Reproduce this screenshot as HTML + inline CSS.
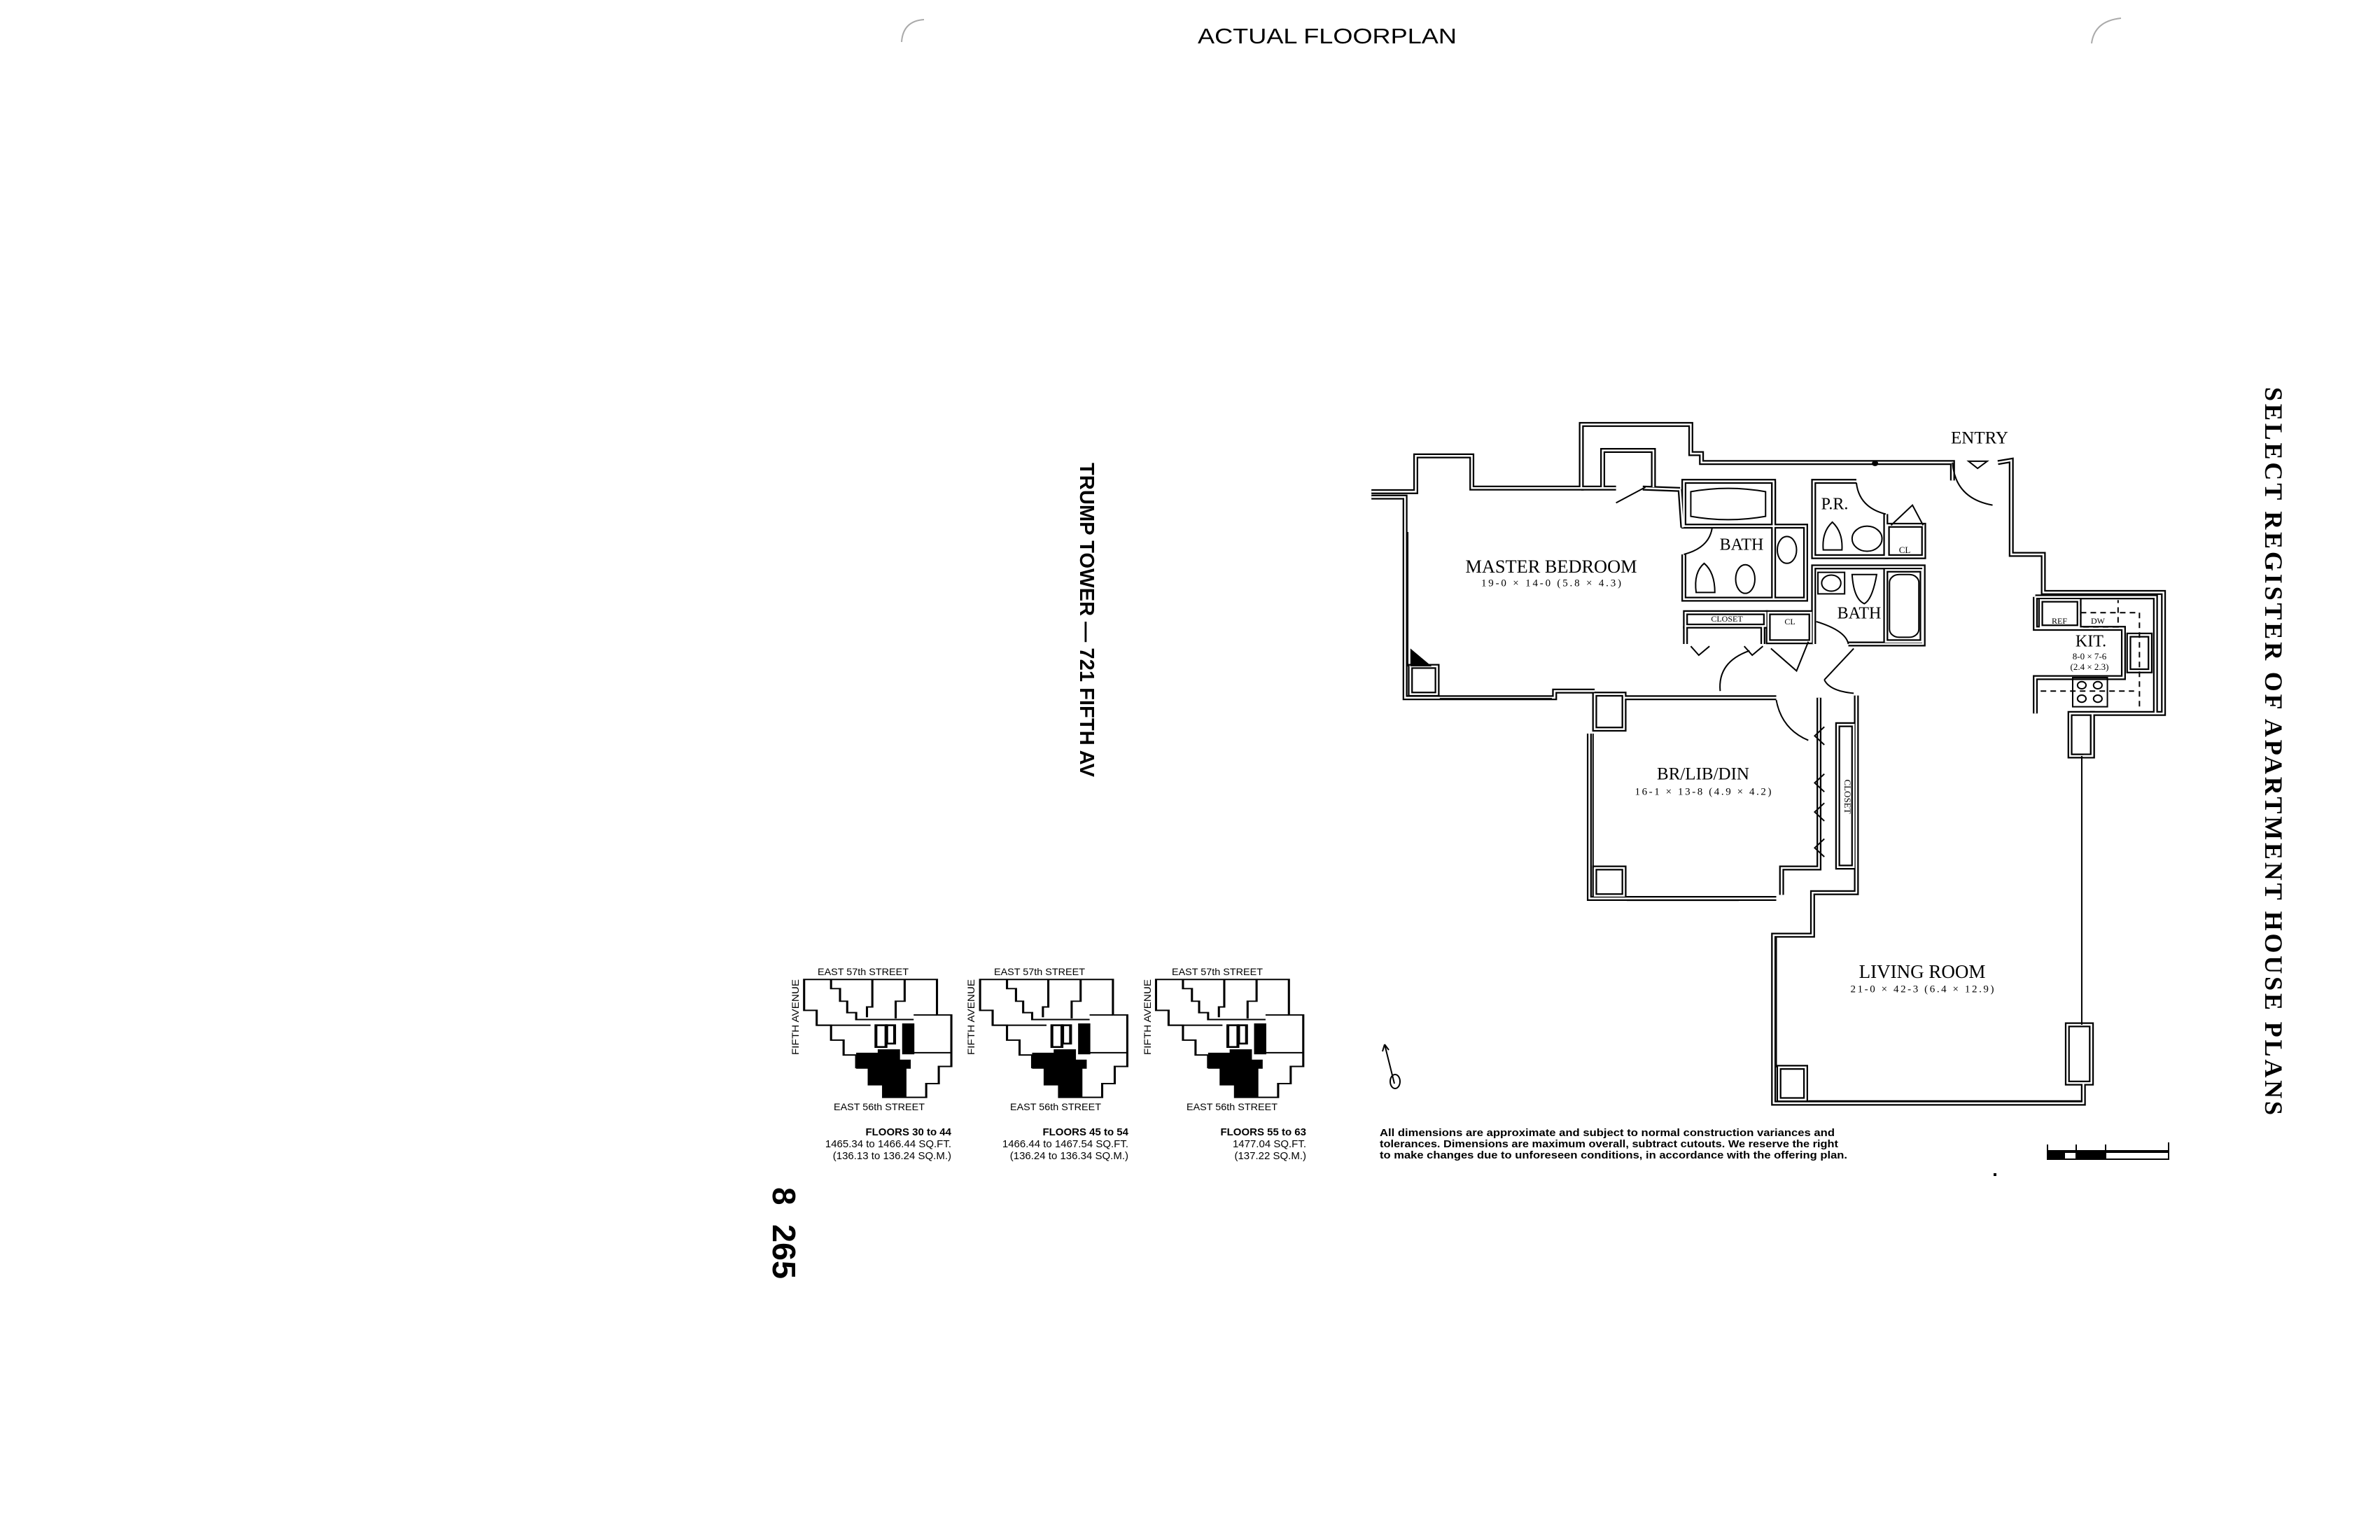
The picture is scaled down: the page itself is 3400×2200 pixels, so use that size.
<!DOCTYPE html>
<html><head><meta charset="utf-8"><style>
html,body{margin:0;padding:0;background:#fff}
svg{display:block}
</style></head><body>
<svg width="3400" height="2200" viewBox="0 0 3400 2200" xmlns="http://www.w3.org/2000/svg">
<defs>
 <g id="walls">
  <polyline vector-effect="non-scaling-stroke" points="12,160 95,160 95,80 200,80 200,152 405,152 405,10 610,10 610,75 630,75 630,95 1100,95 1100,135"/>
  <polyline vector-effect="non-scaling-stroke" points="1185,95 1210,90 1210,300 1270,300 1270,385 1495,385 1495,655 1362,655 1362,750 1345,750"/>
  <polyline vector-effect="non-scaling-stroke" points="1345,1480 1345,1525 765,1525 765,1150 838,1150 838,1055 920,1055 920,615"/>
  <polyline vector-effect="non-scaling-stroke" points="12,172 75,172 75,620 355,620 355,605 430,605"/>
  <polyline vector-effect="non-scaling-stroke" points="420,700 420,1068 770,1068"/>
  <polyline vector-effect="non-scaling-stroke" points="485,620 770,620"/>
  <polyline vector-effect="non-scaling-stroke" points="850,620 850,1000 780,1000 780,1060"/>
  <polyline vector-effect="non-scaling-stroke" points="590,155 595,240"/>
  <rect vector-effect="non-scaling-stroke" x="85" y="550" width="50" height="62"/>
  <rect vector-effect="non-scaling-stroke" x="430" y="612" width="55" height="78"/>
  <rect vector-effect="non-scaling-stroke" x="430" y="1000" width="55" height="62"/>
  <rect vector-effect="non-scaling-stroke" x="775" y="1445" width="50" height="72"/>
  <rect vector-effect="non-scaling-stroke" x="1315" y="1350" width="45" height="130"/>
  <rect vector-effect="non-scaling-stroke" x="1320" y="655" width="42" height="95"/>
  <polyline vector-effect="non-scaling-stroke" points="445,150 445,68 540,68 540,150"/>
  <polyline vector-effect="non-scaling-stroke" points="405,152 470,152"/>
  <polyline vector-effect="non-scaling-stroke" points="520,152 590,155"/>
  <rect vector-effect="non-scaling-stroke" x="597" y="137" width="168" height="100"/>
  <polyline vector-effect="non-scaling-stroke" points="597,300 597,400 825,400 825,237 765,237 765,137"/>
  <line vector-effect="non-scaling-stroke" x1="765" y1="237" x2="765" y2="400"/>
  <polyline vector-effect="non-scaling-stroke" points="920,137 840,137 840,305 975,305 975,210"/>
  <rect vector-effect="non-scaling-stroke" x="978" y="235" width="68" height="70"/>
  <polyline vector-effect="non-scaling-stroke" points="840,500 840,328 1045,328 1045,500 905,500"/>
  <rect vector-effect="non-scaling-stroke" x="975" y="335" width="68" height="160"/>
  <rect vector-effect="non-scaling-stroke" x="600" y="430" width="150" height="30"/>
  <rect vector-effect="non-scaling-stroke" x="755" y="430" width="80" height="65"/>
  <line vector-effect="non-scaling-stroke" x1="600" y1="460" x2="600" y2="500"/>
  <line vector-effect="non-scaling-stroke" x1="745" y1="460" x2="745" y2="500"/>
  <rect vector-effect="non-scaling-stroke" x="885" y="680" width="30" height="318"/>
  <polyline vector-effect="non-scaling-stroke" points="1255,395 1480,395 1480,655"/>
  <polyline vector-effect="non-scaling-stroke" points="1255,395 1255,465 1420,465 1420,575 1255,575 1255,655"/>
  <rect vector-effect="non-scaling-stroke" x="1265" y="402" width="72" height="60"/>
  <rect vector-effect="non-scaling-stroke" x="1430" y="480" width="40" height="80"/>
 </g>
</defs>
<rect width="3400" height="2200" fill="#fff"/>
<path d="M1288,60 Q1290,30 1320,28" fill="none" stroke="#aaa" stroke-width="2"/>
<path d="M2988,62 Q2992,30 3030,26" fill="none" stroke="#aaa" stroke-width="2"/>

<text x="1896" y="62" font-family="Liberation Sans, sans-serif" font-size="31" text-anchor="middle" textLength="370" lengthAdjust="spacingAndGlyphs">ACTUAL FLOORPLAN</text>

<text transform="translate(3236,553) rotate(90)" x="0" y="0" font-family="Liberation Serif, serif" font-weight="bold" font-size="36" textLength="1040" lengthAdjust="spacing">SELECT  REGISTER  OF  APARTMENT  HOUSE  PLANS</text>

<text transform="translate(1543,661) rotate(90)" font-family="Liberation Sans, sans-serif" font-weight="bold" font-size="29" textLength="449" lengthAdjust="spacingAndGlyphs">TRUMP TOWER — 721 FIFTH AV</text>

<text transform="translate(1104,1696) rotate(90)" font-family="Liberation Sans, sans-serif" font-weight="bold" font-size="46">8</text>
<text transform="translate(1104,1749) rotate(90)" font-family="Liberation Sans, sans-serif" font-weight="bold" font-size="46" textLength="78" lengthAdjust="spacingAndGlyphs">265</text>

<!-- MAIN FLOORPLAN -->
<g transform="translate(1950,600) scale(0.763,0.64)" fill="none" stroke-linejoin="miter">
 <g stroke="#000" stroke-width="7"><use href="#walls"/></g>
 <g stroke="#fff" stroke-width="2.5"><use href="#walls"/></g>
 <g stroke="#000" stroke-width="2">
  <line vector-effect="non-scaling-stroke" x1="80" y1="250" x2="80" y2="550"/>
  <line vector-effect="non-scaling-stroke" x1="140" y1="622" x2="350" y2="622"/>
  <line vector-effect="non-scaling-stroke" x1="427" y1="700" x2="427" y2="1000"/>
  <line vector-effect="non-scaling-stroke" x1="490" y1="1072" x2="700" y2="1072"/>
  <line vector-effect="non-scaling-stroke" x1="770" y1="1155" x2="770" y2="1445"/>
  <line vector-effect="non-scaling-stroke" x1="830" y1="1520" x2="1340" y2="1520"/>
  <line vector-effect="non-scaling-stroke" x1="1342" y1="750" x2="1342" y2="1350"/>
  <polyline stroke-dasharray="8,6" vector-effect="non-scaling-stroke" points="1340,402 1340,462 1410,462 1410,402"/>
  <polyline stroke-dasharray="8,6" vector-effect="non-scaling-stroke" points="1340,430 1450,430 1450,640"/>
  <polyline stroke-dasharray="8,6" vector-effect="non-scaling-stroke" points="1265,605 1440,605"/>
  <rect vector-effect="non-scaling-stroke" x="1325" y="575" width="65" height="65"/>
  <circle vector-effect="non-scaling-stroke" cx="1342" cy="592" r="8"/><circle vector-effect="non-scaling-stroke" cx="1372" cy="592" r="8"/>
  <circle vector-effect="non-scaling-stroke" cx="1342" cy="622" r="8"/><circle vector-effect="non-scaling-stroke" cx="1372" cy="622" r="8"/>
  <path vector-effect="non-scaling-stroke" d="M610,160 Q680,145 750,160 L750,215 Q680,230 610,215 Z"/>
  <ellipse vector-effect="non-scaling-stroke" cx="790" cy="290" rx="18" ry="30"/>
  <path vector-effect="non-scaling-stroke" d="M620,385 Q615,340 635,320 Q655,340 655,385 Z"/>
  <ellipse vector-effect="non-scaling-stroke" cx="712" cy="355" rx="18" ry="32"/>
  <path vector-effect="non-scaling-stroke" d="M858,290 Q855,250 875,228 Q895,250 893,290 Z"/>
  <circle vector-effect="non-scaling-stroke" cx="940" cy="265" r="28"/>
  <rect vector-effect="non-scaling-stroke" x="848" y="340" width="50" height="48"/>
  <circle vector-effect="non-scaling-stroke" cx="873" cy="364" r="18"/>
  <path vector-effect="non-scaling-stroke" d="M912,345 L958,345 Q950,400 935,410 Q915,400 912,345 Z"/>
  <rect vector-effect="non-scaling-stroke" x="982" y="345" width="55" height="140" rx="18"/>
  <path vector-effect="non-scaling-stroke" d="M470,185 L525,150"/>
  <path vector-effect="non-scaling-stroke" d="M597,300 Q645,285 650,240"/>
  <path vector-effect="non-scaling-stroke" d="M920,140 Q925,195 975,210"/>
  <path vector-effect="non-scaling-stroke" d="M1100,95 Q1105,175 1175,190"/>
  <path vector-effect="non-scaling-stroke" d="M985,235 L1025,190 L1045,235"/>
  <path vector-effect="non-scaling-stroke" d="M665,605 Q660,540 720,515"/>
  <path vector-effect="non-scaling-stroke" d="M770,625 Q780,690 830,715"/>
  <path vector-effect="non-scaling-stroke" d="M860,580 Q870,605 915,610 M860,580 L915,510"/>
  <path vector-effect="non-scaling-stroke" d="M845,450 Q900,470 905,500"/>
  <path vector-effect="non-scaling-stroke" d="M760,510 L808,560 L830,495"/>
  <path vector-effect="non-scaling-stroke" d="M610,505 L625,525 L645,505 M710,505 L725,525 L745,505"/>
  <path vector-effect="non-scaling-stroke" d="M860,685 L842,705 L860,725 M860,790 L842,810 L860,830 M860,855 L842,875 L860,895 M860,935 L842,955 L860,975"/>
  <path vector-effect="non-scaling-stroke" d="M1130,92 L1165,92 L1147,108 Z"/>
 </g>
 <path d="M85,510 L85,550 L125,550 Z" fill="#000"/>
 <circle cx="955" cy="97" r="6" fill="#000"/>
</g>
<g stroke="#000" stroke-width="2" fill="none">
 <line x1="1978" y1="1492" x2="1992" y2="1548"/>
 <ellipse cx="1993" cy="1545" rx="7" ry="10"/>
 <path d="M1978,1492 L1975,1502 M1978,1492 L1984,1500"/>
</g>

<g font-family="Liberation Serif, serif" text-anchor="middle" dominant-baseline="middle" fill="#000">
 <text x="2216" y="812" font-size="26" textLength="245" lengthAdjust="spacingAndGlyphs">MASTER BEDROOM</text>
 <text x="2216" y="834" font-size="15" textLength="200" lengthAdjust="spacing">19-0 × 14-0     (5.8 × 4.3)</text>
 <text x="2488" y="780" font-size="24">BATH</text>
 <text x="2621" y="722" font-size="24">P.R.</text>
 <text x="2721" y="787" font-size="13">CL</text>
 <text x="2656" y="878" font-size="24">BATH</text>
 <text x="2467" y="885" font-size="12">CLOSET</text>
 <text x="2557" y="889" font-size="12">CL</text>
 <text x="2942" y="888" font-size="12">REF</text>
 <text x="2997" y="888" font-size="12">DW</text>
 <text x="2987" y="918" font-size="24">KIT.</text>
 <text x="2985" y="939" font-size="13">8-0 × 7-6</text>
 <text x="2985" y="954" font-size="13">(2.4 × 2.3)</text>
 <text x="2828" y="628" font-size="25">ENTRY</text>
 <text x="2433" y="1108" font-size="25">BR/LIB/DIN</text>
 <text x="2433" y="1132" font-size="15" textLength="195" lengthAdjust="spacing">16-1 × 13-8     (4.9 × 4.2)</text>
 <text transform="translate(2638,1138) rotate(90)" font-size="13">CLOSET</text>
 <text x="2746" y="1391" font-size="27">LIVING ROOM</text>
 <text x="2746" y="1414" font-size="15" textLength="205" lengthAdjust="spacing">21-0 × 42-3     (6.4 × 12.9)</text>
</g>

<g font-family="Liberation Sans, sans-serif" font-size="15" font-weight="bold" fill="#000">
 <text x="1971" y="1623" textLength="650" lengthAdjust="spacingAndGlyphs">All dimensions are approximate and subject to normal construction variances and</text>
 <text x="1971" y="1639" textLength="655" lengthAdjust="spacingAndGlyphs">tolerances. Dimensions are maximum overall, subtract cutouts. We reserve the right</text>
 <text x="1971" y="1655" textLength="668" lengthAdjust="spacingAndGlyphs">to make changes due to unforeseen conditions, in accordance with the offering plan.</text>
</g>
<g stroke="#000" fill="none" stroke-width="2">
 <line x1="2925" y1="1644" x2="3098" y2="1644"/>
 <line x1="2925" y1="1635" x2="2925" y2="1657"/><line x1="2966" y1="1635" x2="2966" y2="1657"/>
 <line x1="3008" y1="1635" x2="3008" y2="1657"/><line x1="3098" y1="1632" x2="3098" y2="1657"/>
 <rect x="2925" y="1646" width="173" height="10"/>
</g>
<rect x="2925" y="1646" width="25" height="10" fill="#000"/>
<rect x="2966" y="1646" width="42" height="10" fill="#000"/>
<rect x="2848" y="1676" width="4" height="4" fill="#000"/>

<!-- KEY PLANS -->
<g transform="translate(1100,1360) scale(0.513,0.327)">
 <g id="kp1">
  <polygon points="95,120 465,120 465,275 505,275 505,500 470,500 470,575 435,575 435,635 315,635 315,580 275,580 275,505 240,505 240,450 205,450 205,385 170,385 170,320 130,320 130,255 95,255" fill="#fff" stroke="#000" stroke-width="6"/>
  <polygon points="240,440 300,440 300,425 362,425 362,470 392,470 392,510 380,510 380,637 315,637 315,580 275,580 275,510 240,510" fill="#000"/>
  <rect x="368" y="312" width="34" height="135" fill="#000"/>
  <rect x="295" y="320" width="28" height="95" fill="none" stroke="#000" stroke-width="8"/>
  <rect x="325" y="320" width="22" height="80" fill="none" stroke="#000" stroke-width="8"/>
  <path d="M170,120 L170,160 L195,160 L195,215 L215,215 L215,265 L240,265 L240,295 L400,295 M285,120 L285,240 L270,240 L270,285 M375,120 L375,215 L350,215 L350,290 M130,320 L280,320 M400,275 L465,275 M400,440 L505,440" fill="none" stroke="#000" stroke-width="6"/>
 </g>
 <use href="#kp1" x="490"/>
 <use href="#kp1" x="980"/>
</g>
<g font-family="Liberation Sans, sans-serif" font-size="14" fill="#000" text-anchor="middle">
 <text x="1233" y="1393" textLength="130" lengthAdjust="spacingAndGlyphs">EAST 57th STREET</text>
 <text x="1485" y="1393" textLength="130" lengthAdjust="spacingAndGlyphs">EAST 57th STREET</text>
 <text x="1739" y="1393" textLength="130" lengthAdjust="spacingAndGlyphs">EAST 57th STREET</text>
 <text x="1256" y="1586" textLength="130" lengthAdjust="spacingAndGlyphs">EAST 56th STREET</text>
 <text x="1508" y="1586" textLength="130" lengthAdjust="spacingAndGlyphs">EAST 56th STREET</text>
 <text x="1760" y="1586" textLength="130" lengthAdjust="spacingAndGlyphs">EAST 56th STREET</text>
 <text transform="translate(1141,1453) rotate(-90)" textLength="108" lengthAdjust="spacingAndGlyphs">FIFTH AVENUE</text>
 <text transform="translate(1392,1453) rotate(-90)" textLength="108" lengthAdjust="spacingAndGlyphs">FIFTH AVENUE</text>
 <text transform="translate(1644,1453) rotate(-90)" textLength="108" lengthAdjust="spacingAndGlyphs">FIFTH AVENUE</text>
</g>
<g font-family="Liberation Sans, sans-serif" font-size="15" fill="#000" text-anchor="end">
 <text x="1359" y="1622" font-weight="bold">FLOORS 30 to 44</text>
 <text x="1359" y="1639">1465.34 to 1466.44 SQ.FT.</text>
 <text x="1359" y="1656">(136.13 to 136.24 SQ.M.)</text>
 <text x="1612" y="1622" font-weight="bold">FLOORS 45 to 54</text>
 <text x="1612" y="1639">1466.44 to 1467.54 SQ.FT.</text>
 <text x="1612" y="1656">(136.24 to 136.34 SQ.M.)</text>
 <text x="1866" y="1622" font-weight="bold">FLOORS 55 to 63</text>
 <text x="1866" y="1639">1477.04 SQ.FT.</text>
 <text x="1866" y="1656">(137.22 SQ.M.)</text>
</g>
</svg>
</body></html>
